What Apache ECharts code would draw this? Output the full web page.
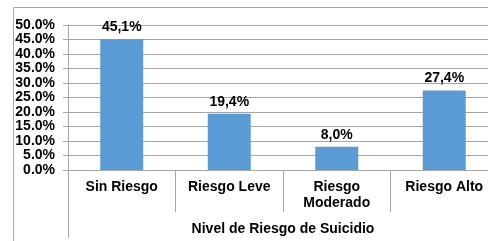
<!DOCTYPE html>
<html>
<head>
<meta charset="utf-8">
<script src="https://cdn.jsdelivr.net/npm/echarts@6/dist/echarts.min.js"></script>
<style>
  html, body { margin: 0; padding: 0; background: #fff; }
  #chart { width: 488px; height: 241px; }
</style>
</head>
<body>
<div id="chart"></div>
<script>
// data
const categories = ['Sin Riesgo', 'Riesgo Leve', 'Riesgo\nModerado', 'Riesgo Alto'];
const values = [45.1, 19.4, 8.0, 27.4];
const axisTitle = ['Nivel de Riesgo de Suicidio'];

const font = 'Liberation Sans, Arial, sans-serif';
const lineColor = '#a6a6a6';

const myChart = echarts.init(document.getElementById('chart'));
const option = {
  animation: false,
  // outer chart-area border (left and top edges visible)
  graphic: [{
    type: 'rect',
    shape: { x: 13.5, y: 7.5, width: 600, height: 400 },
    style: { fill: 'none', stroke: lineColor, lineWidth: 1 },
    silent: true
  }],
  grid: {
    left: 68,
    top: 25,
    bottom: 71,
    width: 430,
    outerBoundsMode: 'none'
  },
  xAxis: [{
    type: 'category',
    data: categories,
    axisLine: { lineStyle: { color: lineColor } },
    axisTick: { show: true, interval: 0, length: 42, lineStyle: { color: lineColor } },
    axisLabel: {
      interval: 0,
      margin: 9,
      color: '#000',
      fontFamily: font,
      fontWeight: 'bold',
      fontSize: 14,
      lineHeight: 16
    }
  }, {
    // second level: axis title spanning all categories
    type: 'category',
    position: 'bottom',
    data: axisTitle,
    axisLine: { show: false },
    axisTick: { show: true, interval: 0, length: 68, lineStyle: { color: lineColor } },
    axisLabel: {
      interval: 0,
      margin: 52,
      color: '#000',
      fontFamily: font,
      fontWeight: 'bold',
      fontSize: 14
    }
  }],
  yAxis: {
    type: 'value',
    min: 0,
    max: 50,
    interval: 5,
    axisLine: { show: true, lineStyle: { color: lineColor } },
    axisTick: { show: true, length: 5, lineStyle: { color: lineColor } },
    splitLine: { lineStyle: { color: lineColor } },
    axisLabel: {
      margin: 13,
      color: '#000',
      fontFamily: font,
      fontWeight: 'bold',
      fontSize: 14,
      formatter: v => v.toFixed(1) + '%'
    }
  },
  series: [{
    type: 'bar',
    data: values,
    barWidth: 43,
    itemStyle: { color: '#5b9bd5' },
    label: {
      show: true,
      position: 'top',
      distance: 5,
      color: '#000',
      fontFamily: font,
      fontWeight: 'bold',
      fontSize: 14,
      formatter: p => p.value.toFixed(1).replace('.', ',') + '%'
    }
  }]
};
myChart.setOption(option);
</script>
</body>
</html>
